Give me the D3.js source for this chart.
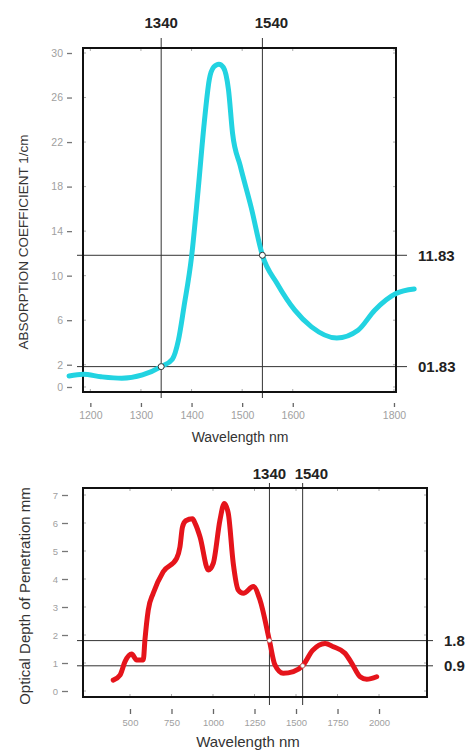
<!DOCTYPE html>
<html>
<head>
<meta charset="utf-8">
<script src="https://cdn.jsdelivr.net/npm/d3@7"></script>
<style>
  html, body { margin: 0; padding: 0; background: #fff; }
  svg { display: block; font-family: "Liberation Sans", Arial, sans-serif; }
</style>
</head>
<body>
<svg id="chart" width="465" height="751"></svg>
<script>
// ---------- data ----------
const absWavelength = [1158,1186,1221,1262,1303,1340,1362,1374,1385,1400,1413,1425,1435,1444,1454,1463,1473,1481,1496,1518,1540,1569,1604,1637,1687,1729,1762,1804,1840];
const absCoefficient = [0.99,1.14,0.92,0.78,1.08,1.83,2.5,4.2,7.2,11.7,17.7,23.7,27.6,28.75,29.0,28.7,26.7,22.8,19.9,16.1,11.83,9.3,6.9,5.4,4.4,5.1,6.9,8.4,8.8];

const depthWavelength = [399,440,470,510,540,580,590,610,640,700,781,801,816,836,876,895,922,972,1002,1042,1068,1092,1122,1152,1183,1243,1283,1340,1373,1423,1484,1540,1600,1675,1725,1795,1836,1886,1926,1986];
const depthValue = [0.39,0.57,1.05,1.32,1.11,1.11,1.82,2.89,3.49,4.26,4.74,5.15,5.85,6.08,6.15,5.95,5.5,4.32,4.57,6.11,6.70,6.35,4.56,3.61,3.49,3.73,3.25,1.8,0.93,0.63,0.69,0.9,1.45,1.70,1.58,1.35,0.99,0.51,0.42,0.51];

const markerWavelengths = [1340, 1540];
const markerLabels = ["1340", "1540"];
const absMarkerValues = [1.83, 11.83];
const absMarkerLabels = ["01.83", "11.83"];
const depthMarkerValues = [1.8, 0.9];
const depthMarkerLabels = ["1.8", "0.9"];

const absXTicks = [1200, 1300, 1400, 1500, 1600, 1800];
const absYTicks = [0, 2, 6, 10, 14, 18, 22, 26, 30];
const depthXTicks = [500, 750, 1000, 1250, 1500, 1750, 2000];
const depthYTicks = [0, 1, 2, 3, 4, 5, 6, 7];

// ---------- drawing ----------
const svg = d3.select("#chart");

function panel(opt) {
  const g = svg.append("g");
  const x = d3.scaleLinear().domain(opt.xDomain).range([opt.left, opt.right]);
  const y = d3.scaleLinear().domain(opt.yDomain).range([opt.bottom, opt.top]);

  // frame minor ticks (inner)
  const ft = g.append("g").attr("stroke", "#aaa").attr("stroke-width", 1);
  opt.yTicks.forEach(t => {
    ft.append("line").attr("x1", opt.left).attr("x2", opt.left + 3).attr("y1", y(t)).attr("y2", y(t));
    ft.append("line").attr("x1", opt.right - 3).attr("x2", opt.right).attr("y1", y(t)).attr("y2", y(t));
  });
  opt.xTicks.forEach(t => {
    ft.append("line").attr("x1", x(t)).attr("x2", x(t)).attr("y1", opt.top).attr("y2", opt.top + 3);
    ft.append("line").attr("x1", x(t)).attr("x2", x(t)).attr("y1", opt.bottom - 3).attr("y2", opt.bottom);
  });

  // y axis (detached, labels with dash)
  const yAxis = d3.axisLeft(y).tickValues(opt.yTicks).tickSize(opt.yTickLen).tickPadding(4);
  const ya = g.append("g").attr("transform", `translate(${opt.yAxisX},0)`).call(yAxis);
  ya.select(".domain").remove();
  ya.selectAll("line").attr("stroke", "#777").attr("stroke-width", 1.3);
  ya.selectAll("text").attr("fill", "#a0a0a0").attr("font-size", opt.tickFont);

  // x axis (detached)
  const xAxis = d3.axisBottom(x).tickValues(opt.xTicks).tickSize(opt.xTickLen).tickPadding(opt.xTickPad).tickFormat(d3.format("d"));
  const xa = g.append("g").attr("transform", `translate(0,${opt.xAxisY})`).call(xAxis);
  xa.select(".domain").remove();
  xa.selectAll("line").attr("stroke", "#666").attr("stroke-width", 1.3);
  xa.selectAll("text").attr("fill", "#a0a0a0").attr("font-size", opt.tickFont);

  // reference lines
  const rl = g.append("g").attr("stroke", "#333").attr("stroke-width", 1);
  markerWavelengths.forEach(w => {
    rl.append("line").attr("x1", x(w)).attr("x2", x(w))
      .attr("y1", opt.top - opt.vExtTop).attr("y2", opt.bottom + opt.vExtBottom);
  });
  opt.markerValues.forEach(v => {
    rl.append("line").attr("x1", opt.left - 6).attr("x2", opt.right + opt.hExtRight)
      .attr("y1", y(v)).attr("y2", y(v));
  });

  // frame
  g.append("rect").attr("x", opt.left).attr("y", opt.top)
    .attr("width", opt.right - opt.left).attr("height", opt.bottom - opt.top)
    .attr("fill", "none").attr("stroke", "#111").attr("stroke-width", 2);

  // curve
  const line = d3.line().x(d => x(d[0])).y(d => y(d[1])).curve(d3.curveMonotoneX);
  g.append("path").datum(d3.zip(opt.xs, opt.ys)).attr("d", line)
    .attr("fill", "none").attr("stroke", opt.color).attr("stroke-width", opt.lineWidth)
    .attr("stroke-linecap", "round").attr("stroke-linejoin", "round");

  // markers
  markerWavelengths.forEach((w, i) => {
    g.append("circle").attr("cx", x(w)).attr("cy", y(opt.markerValues[i])).attr("r", opt.markerR)
      .attr("fill", "#fff").attr("stroke", opt.markerStroke).attr("stroke-width", opt.markerSW);
  });

  // bold labels
  markerWavelengths.forEach((w, i) => {
    g.append("text").attr("x", x(w) + opt.topLabelDx[i]).attr("y", opt.topLabelY)
      .attr("text-anchor", opt.topLabelAnchor[i]).attr("font-size", 15).attr("font-weight", "bold")
      .attr("fill", "#222").text(markerLabels[i]);
  });
  opt.markerValues.forEach((v, i) => {
    g.append("text").attr("x", opt.right + opt.hExtRight + 11).attr("y", y(v)).attr("dy", "0.36em")
      .attr("font-size", 15).attr("font-weight", "bold").attr("fill", "#222").text(opt.markerLabels[i]);
  });

  // axis titles
  g.append("text").attr("x", opt.xTitleX).attr("y", opt.xTitleY).attr("text-anchor", "middle")
    .attr("font-size", opt.xTitleFont).attr("fill", "#333").text("Wavelength nm");
  g.append("text").attr("transform", `translate(${opt.yTitleX},${opt.yTitleY}) rotate(-90)`)
    .attr("text-anchor", "middle").attr("font-size", opt.yTitleFont).attr("fill", "#333").text(opt.yTitle);
}

panel({
  left: 83, right: 396, top: 48, bottom: 392,
  xDomain: [1185.5, 1804], yDomain: [-0.45, 30.45],
  xTicks: absXTicks, yTicks: absYTicks,
  yAxisX: 72, yTickLen: 5, tickFont: 10.5,
  xAxisY: 403, xTickLen: 4, xTickPad: 5,
  markerValues: absMarkerValues, markerLabels: absMarkerLabels,
  vExtTop: 10, vExtBottom: 6, hExtRight: 11,
  xs: absWavelength, ys: absCoefficient, color: "#22d3e1", lineWidth: 5,
  markerR: 3, markerStroke: "#333", markerSW: 1,
  topLabelDx: [0, 9], topLabelAnchor: ["middle", "middle"], topLabelY: 28,
  xTitleX: 240, xTitleY: 442, xTitleFont: 14,
  yTitleX: 28, yTitleY: 242, yTitleFont: 13.5, yTitle: "ABSORPTION COEFFICIENT 1/cm"
});

panel({
  left: 83, right: 427, top: 488, bottom: 697,
  xDomain: [217, 2289], yDomain: [-0.214, 7.25],
  xTicks: depthXTicks, yTicks: depthYTicks,
  yAxisX: 68, yTickLen: 6, tickFont: 9.5,
  xAxisY: 709, xTickLen: 5, xTickPad: 5,
  markerValues: depthMarkerValues, markerLabels: depthMarkerLabels,
  vExtTop: 5, vExtBottom: 8, hExtRight: 6,
  xs: depthWavelength, ys: depthValue, color: "#e5141b", lineWidth: 5,
  markerR: 2, markerStroke: "#999", markerSW: 0.6,
  topLabelDx: [0, -8], topLabelAnchor: ["middle", "start"], topLabelY: 479,
  xTitleX: 248, xTitleY: 747, xTitleFont: 15,
  yTitleX: 30, yTitleY: 596, yTitleFont: 15, yTitle: "Optical Depth of Penetration mm"
});
</script>
</body>
</html>
